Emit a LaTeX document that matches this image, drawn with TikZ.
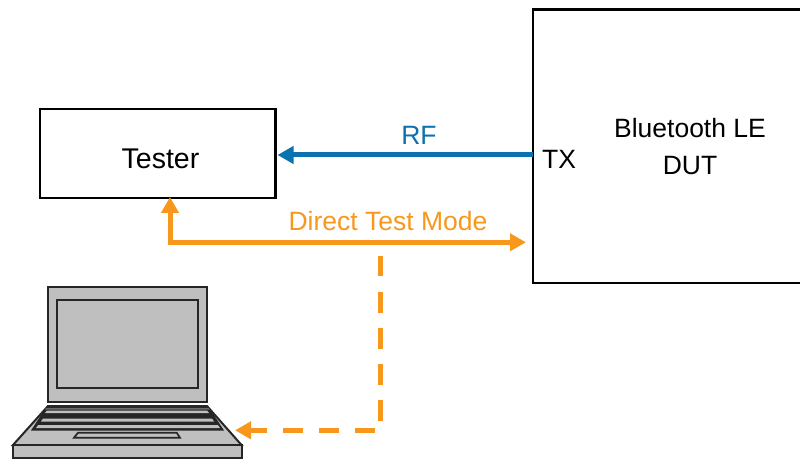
\documentclass[tikz,border=0pt]{standalone}
\usepackage{fontspec}
\setmainfont{Liberation Sans}
\usetikzlibrary{arrows.meta}
\definecolor{rfblue}{HTML}{0A72AE}
\definecolor{dtmorange}{HTML}{F7981D}
\definecolor{lapgray}{HTML}{BFBFBF}
\tikzset{
  box/.style={draw=black,line width=2.5pt,fill=white,anchor=north west,inner sep=0pt,outer sep=0pt},
  lbl/.style={font=\fontsize{26.5pt}{30pt}\selectfont,inner sep=0pt,anchor=center},
  rfline/.style={draw=rfblue,line width=5pt,-{Triangle[length=16pt,width=17pt]}},
  dtmline/.style={draw=dtmorange,line width=5pt},
  dtmtip/.style={-{Triangle[length=16pt,width=17pt]}},
  lap/.style={draw=black!85,line width=2pt,fill=lapgray,line join=miter},
}
\begin{document}
\begin{tikzpicture}[x=1pt,y=-1pt]
\useasboundingbox (0,0) rectangle (800,462);
% boxes
\node[box,minimum width=235.5pt,minimum height=89pt] (tester) at (40,109) {};
\node[lbl,font=\fontsize{28.5pt}{30pt}\selectfont] at (160.5,159) {Tester};
\node[box,minimum width=275pt,minimum height=273.5pt] (dut) at (533,9.5) {};
\node[lbl] at (690,128) {Bluetooth LE};
\node[lbl] at (690,166) {DUT};
\node[lbl] (tx) at (559,159) {TX};
% coordinates
\coordinate (rfstart) at (dut.west |- 0,155);
\coordinate (rfend) at (277.5,155);
\coordinate (corner) at (170,242.3);
\coordinate (dtmup) at (170,197);
\coordinate (dtmright) at (526,242.3);
\coordinate (dashtop) at (380.7,256);
\coordinate (dashcorner) at (380.7,430.3);
\coordinate (lapend) at (235,430.3);
% laptop
\draw[lap] (48,287) rectangle (207,401.5);
\draw[lap] (57,300) rectangle (198,388);
\draw[lap] (48,406) -- (207,406) -- (241.5,445) -- (13,445) -- cycle;
\draw[lap] (13,445) rectangle (241.5,458);
\fill[black!85] (47,406) -- (208,406) -- (224,430.5) -- (31,430.5) -- cycle;
\fill[lapgray!55!black] (46,408) -- (209,408) -- (209.5,409.5) -- (45,409.5) -- cycle;
\fill[lapgray] (47,410.5) -- (207,410.5) -- (209,413) -- (45,413) -- cycle;
\fill[lapgray] (43,418.5) -- (212,418.5) -- (214,421.5) -- (41,421.5) -- cycle;
\fill[lapgray] (38,425.2) -- (218,425.2) -- (220,428) -- (36,428) -- cycle;
\draw[lap,line width=1.7pt] (74,437.7) -- (78,432.7) -- (176.7,432.7) -- (180,437.7) -- cycle;
% connectors
\draw[rfline] (rfstart) -- (rfend);
\node[lbl,text=rfblue] (rf) at (419,135) {RF};
\draw[dtmline,dtmtip,line cap=rect] (corner) -- (dtmup);
\draw[dtmline,dtmtip,line cap=rect] (corner) -- (dtmright);
\node[lbl,text=dtmorange] (dtm) at (388,221) {Direct Test Mode};
\draw[dtmline,dash pattern=on 20.5pt off 15.5pt,dtmtip] (dashtop) -- (dashcorner) -- (lapend);
\end{tikzpicture}
\end{document}
